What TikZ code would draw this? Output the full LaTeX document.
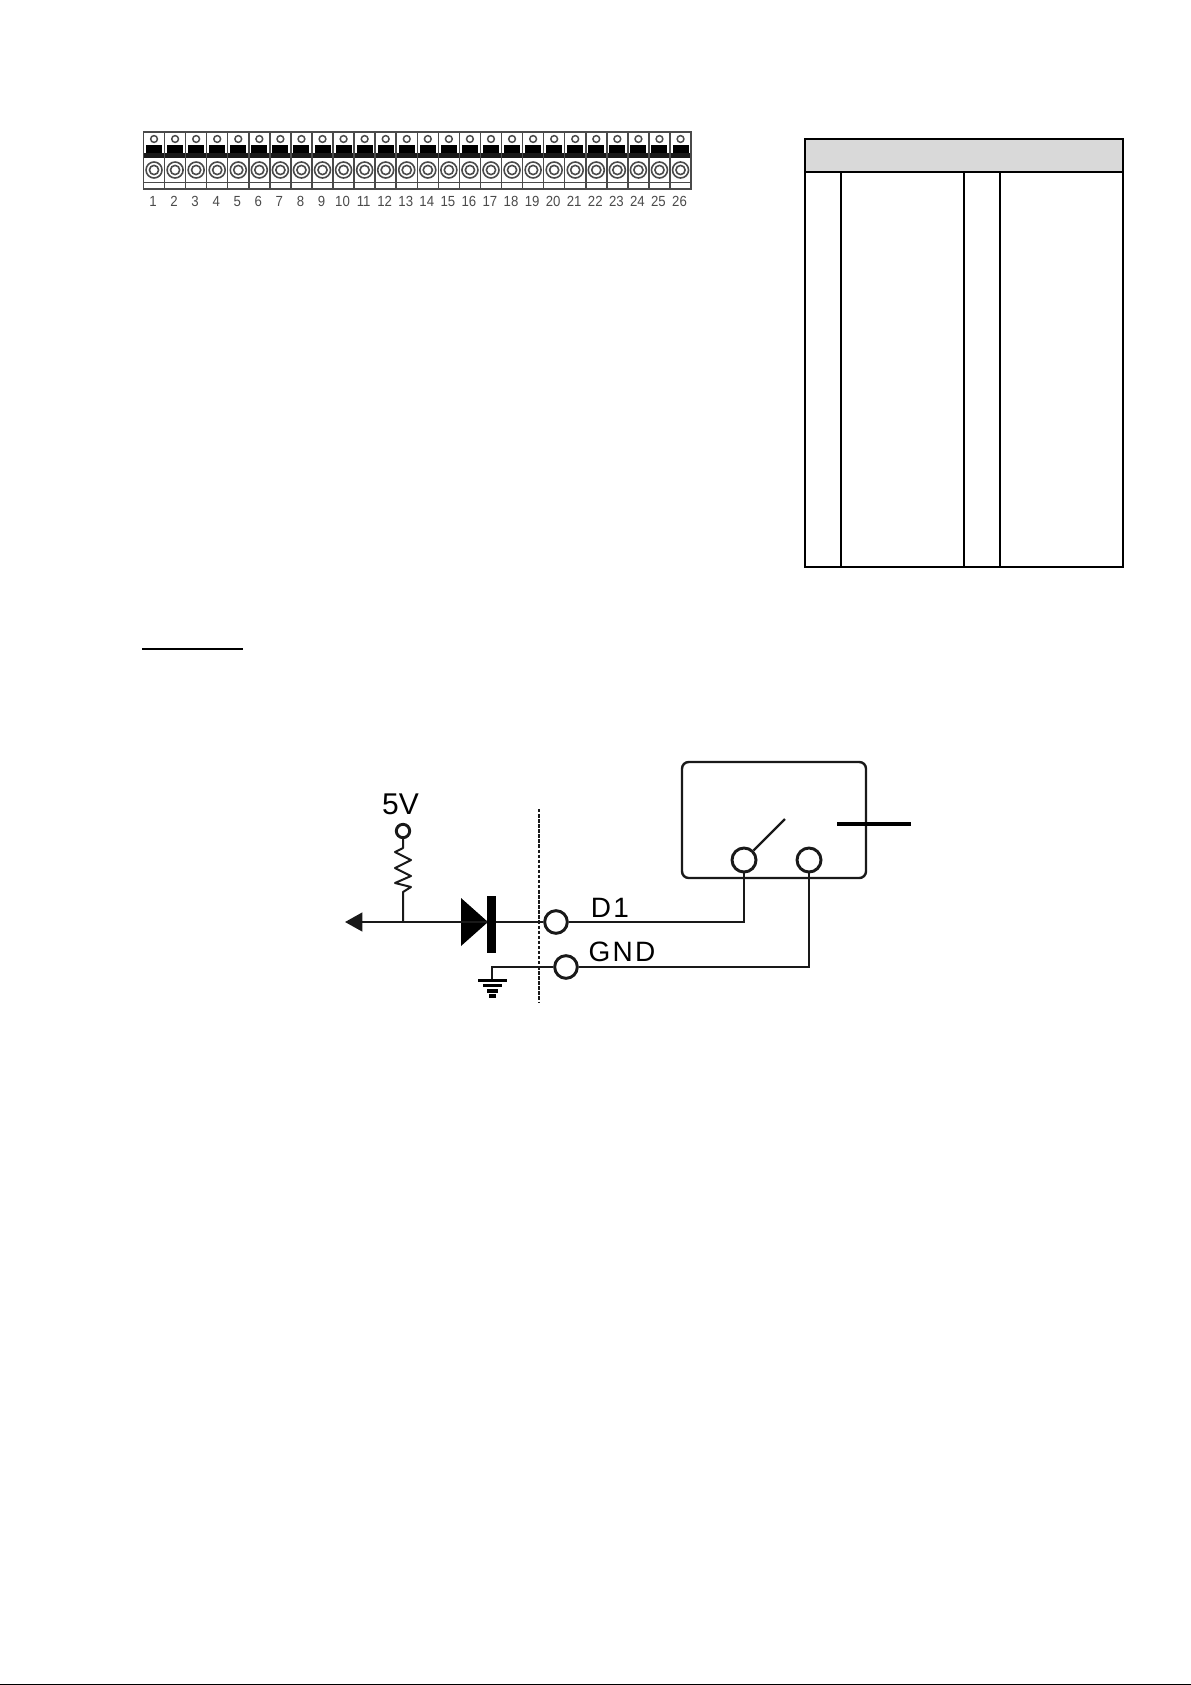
\documentclass[tikz,border=0pt]{standalone}
\usepackage{fontspec}
\setmainfont{Liberation Sans}
\newfontfamily\wirefont[LetterSpace=8]{Liberation Sans}
\usetikzlibrary{arrows.meta}
\definecolor{stripgray}{HTML}{4A4A4A}
\definecolor{headgray}{HTML}{D9D9D9}
\tikzset{
    wire/.style={line width=1.8pt, black!90},
    pin/.style={circle, draw=black!90, line width=2.2pt, fill=white, inner sep=0pt, minimum size=#1},
    wirelabel/.style={font=\wirefont\fontsize{21pt}{21pt}\selectfont, inner sep=0pt},
    numlabel/.style={font=\fontsize{11pt}{11pt}\selectfont, text=stripgray, inner sep=0pt, xscale=0.9, anchor=base},
    tableline/.style={line width=1.5pt, black},
}

\begin{document}
\begin{tikzpicture}[x=0.75pt, y=-0.75pt]

    \useasboundingbox (0, 0) rectangle (1191, 1685);

    % Make the terminal strip
    \foreach \i in {1,...,26}{
        \pgfmathsetmacro\cx{143.5 + 21.06*(\i - 0.5)}
        \fill[black] (\cx - 8, 145) rectangle (\cx + 8, 154);
        \fill[black!90] (\cx - 10.5, 153) rectangle (\cx + 10.5, 158);
        \draw[stripgray, line width=1.1pt] (\cx, 139) circle (3.4);
        \draw[stripgray, line width=1.2pt] (\cx, 170) circle (8);
        \draw[stripgray, line width=1.2pt] (\cx, 170) circle (4.6);
        \draw[stripgray, line width=1.1pt] (\cx - 10.53, 132) rectangle (\cx + 10.53, 189);
        \node[numlabel] (num\i) at (\cx - 1, 206) {\i};
    }
    \draw[stripgray, line width=1pt] (143.5, 182.5)--(691, 182.5);

    % Make the table
    \fill[headgray] (805, 139) rectangle (1123, 172);
    \draw[tableline] (805, 139) rectangle (1123, 566.5);
    \draw[tableline] (805, 172)--(1123, 172);
    \foreach \x in {841,964,1000}{
        \draw[tableline] (\x, 172)--(\x, 566.5);
    }

    % Heading rule
    \draw[line width=1.7pt] (142, 649)--(243, 649);

    % Relay box
    \draw[wire, rounded corners=5] (682, 762) rectangle (866, 878);
    \draw[line width=3.4pt, black] (837, 824)--(911, 824);

    % Pins
    \node[pin=10] (vcc) at (403, 831) {};
    \node[pin=17] (d1pin) at (556, 922) {};
    \node[pin=17] (gndpin) at (566, 967) {};
    \node[pin=18] (relaya) at (744, 860) {};
    \node[pin=18] (relayb) at (809, 860) {};
    \coordinate (armend) at (785, 819);

    % Labels
    \node[font=\fontsize{22.5pt}{22.5pt}\selectfont, inner sep=0pt] (vlabel) at (400.5, 804) {5V};
    \node[wirelabel] (d1label) at (610, 908) {D1};
    \node[wirelabel] (gndlabel) at (622, 952) {GND};

    % Resistor down to the line
    \coordinate (junction) at (403, 922);
    \coordinate (tip) at (345, 922);
    \draw[wire, line width=1.5pt, line join=round]
        (vcc) -- (403, 848) -- (395, 852) -- (411, 860) -- (395, 868)
        -- (411, 876) -- (395, 883) -- (411, 887) -- (403, 892) -- (junction);
    \draw[wire, -{Triangle[length=13pt, width=14pt]}] (junction) -- (tip);

    % Diode
    \node[fill=black, inner sep=0pt, minimum width=6.6pt, minimum height=43pt] (bar) at (491.5, 924.5) {};
    \fill[black] (461, 898) -- (488, 922) -- (461, 946) -- cycle;
    \draw[wire] (junction) -- (junction -| bar.west);
    \draw[wire] (d1pin -| bar.east) -- (d1pin);

    % Wires to the relay
    \draw[wire] (d1pin) -| (relaya);
    \draw[wire] (gndpin) -| (relayb);
    \draw[wire] (relaya) -- (armend);

    % Ground
    \coordinate (ground) at (492, 980);
    \draw[wire] (gndpin) -| (ground);
    \fill[black] (478, 978.5) rectangle (507, 981.5);
    \fill[black] (483, 983.5) rectangle (502, 987);
    \fill[black] (487, 989) rectangle (498, 992.5);
    \fill[black] (489, 994) rectangle (496, 998);

    % Split line
    \coordinate (splittop) at (539, 809);
    \coordinate (splitbottom) at (539, 1002);
    \draw[line width=1.7pt, black!90, dash pattern=on 2.6pt off 1.2pt] (splittop) -- (splitbottom);

    % Rule at the foot of the page
    \fill[black] (0, 1683.5) rectangle (1191, 1685);

\end{tikzpicture}
\end{document}
